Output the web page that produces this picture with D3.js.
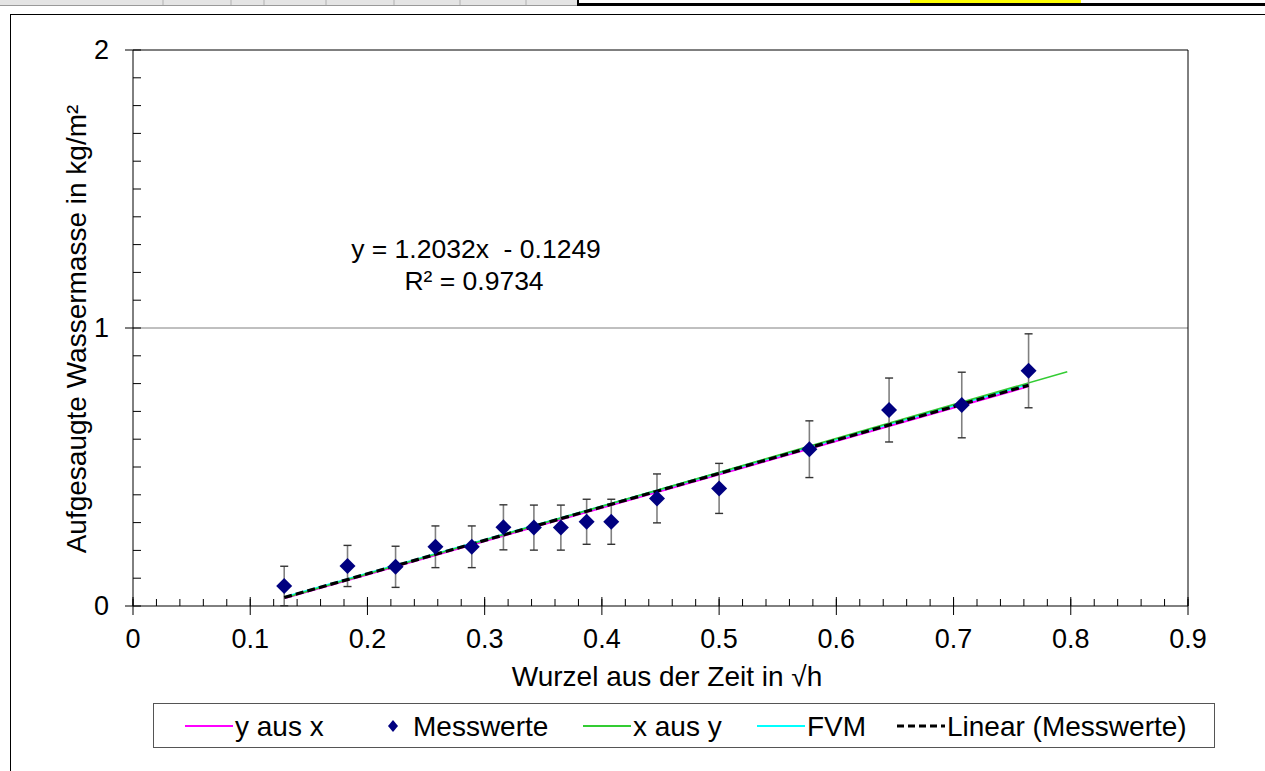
<!DOCTYPE html>
<html lang="de">
<head>
<meta charset="utf-8">
<title>Wasseraufnahme</title>
<script src="https://d3js.org/d3.v7.min.js"></script>
<style>
  body { margin: 0; background: #fff; }
  svg text { font-family: "Liberation Sans", Arial, sans-serif; fill: #000; }
</style>
</head>
<body>
<div id="chart"></div>
<script>

// Messwerte: Wurzel der Zeit (sqrt h) und aufgesaugte Wassermasse (kg/m²)
var sqrtT = [0.129, 0.183, 0.224, 0.258, 0.289, 0.316, 0.342, 0.365,
             0.387, 0.408, 0.447, 0.500, 0.577, 0.645, 0.707, 0.764];
var masse = [0.072, 0.144, 0.141, 0.213, 0.213, 0.283, 0.282, 0.282,
             0.303, 0.303, 0.387, 0.423, 0.564, 0.705, 0.723, 0.846];
var fehler = [0.071, 0.074, 0.074, 0.075, 0.075, 0.081, 0.081, 0.081,
              0.081, 0.081, 0.088, 0.090, 0.102, 0.115, 0.118, 0.133];

// Regressionslinien (Endpunkte)
var yAusX = [[0.129, 0.028], [0.764, 0.790]];
var xAusY = [[0.135, 0.036], [0.797, 0.843]];
var fvm   = [[0.129, 0.032], [0.764, 0.798]];
var trendSteigung = 1.2032, trendAchse = -0.1249;

var xTicks = [0, 0.1, 0.2, 0.3, 0.4, 0.5, 0.6, 0.7, 0.8, 0.9];
var yTicks = [0, 1, 2];

var width = 1265, height = 771;
var svg = d3.select("#chart").append("svg")
  .attr("width", width)
  .attr("height", height);

// spreadsheet leftovers at the top
svg.append("rect").attr("x", 0).attr("y", 0).attr("width", 578).attr("height", 5).attr("fill", "#e4e4e4");
[163, 231, 264, 326, 394, 460, 526].forEach(function(px) {
  svg.append("line").attr("x1", px).attr("x2", px).attr("y1", 0).attr("y2", 5).attr("stroke", "#b0b0b0");
});
svg.append("line").attr("x1", 0).attr("x2", 578).attr("y1", 5.5).attr("y2", 5.5).attr("stroke", "#999");
svg.append("rect").attr("x", 910).attr("y", 0).attr("width", 171).attr("height", 3).attr("fill", "#ffff00");
svg.append("rect").attr("x", 578).attr("y", 3).attr("width", 687).attr("height", 3).attr("fill", "#000");
svg.append("rect").attr("x", 577).attr("y", 0).attr("width", 2).attr("height", 6).attr("fill", "#000");

// chart area border
svg.append("line").attr("x1", 10).attr("x2", width).attr("y1", 14.5).attr("y2", 14.5).attr("stroke", "#000");
svg.append("line").attr("x1", 10.5).attr("x2", 10.5).attr("y1", 14).attr("y2", height).attr("stroke", "#000");

var x = d3.scaleLinear().domain([0, 0.9]).range([133, 1188]);
var y = d3.scaleLinear().domain([0, 2]).range([606, 50]);

// gridline and plot border
svg.append("line")
  .attr("x1", x(0)).attr("x2", x(0.9))
  .attr("y1", y(1)).attr("y2", y(1))
  .attr("stroke", "#808080");
svg.append("path")
  .attr("d", "M" + x(0) + "," + y(2) + "H" + x(0.9) + "V" + y(0))
  .attr("fill", "none").attr("stroke", "#000");

// x axis: major ticks cross, minor ticks inside
var xAxis = svg.append("g").attr("transform", "translate(0," + y(0) + ")");
xAxis.append("line").attr("x1", x(0)).attr("x2", x(0.9)).attr("stroke", "#000");
xAxis.selectAll(".minor").data(d3.range(0, 0.9001, 0.02)).enter().append("line")
  .attr("x1", function(d) { return x(d); }).attr("x2", function(d) { return x(d); })
  .attr("y1", -7).attr("y2", 0).attr("stroke", "#000");
xAxis.selectAll(".major").data(xTicks).enter().append("line")
  .attr("x1", function(d) { return x(d); }).attr("x2", function(d) { return x(d); })
  .attr("y1", -9).attr("y2", 9).attr("stroke", "#000");
xAxis.selectAll("text").data(xTicks).enter().append("text")
  .attr("x", function(d) { return x(d); })
  .attr("y", 42)
  .attr("text-anchor", "middle")
  .style("font-size", "27px")
  .text(function(d) { return d === 0 ? "0" : d3.format(".1f")(d); });

// y axis
var yAxis = svg.append("g").attr("transform", "translate(" + x(0) + ",0)");
yAxis.append("line").attr("y1", y(0)).attr("y2", y(2)).attr("stroke", "#000");
yAxis.selectAll(".minor").data(d3.range(0, 2.001, 0.1)).enter().append("line")
  .attr("y1", function(d) { return y(d); }).attr("y2", function(d) { return y(d); })
  .attr("x1", 0).attr("x2", 8).attr("stroke", "#000");
yAxis.selectAll(".major").data(yTicks).enter().append("line")
  .attr("y1", function(d) { return y(d); }).attr("y2", function(d) { return y(d); })
  .attr("x1", -8).attr("x2", 0).attr("stroke", "#000");
yAxis.selectAll("text").data(yTicks).enter().append("text")
  .attr("x", -24)
  .attr("y", function(d) { return y(d) + 9; })
  .attr("text-anchor", "end")
  .style("font-size", "27px")
  .text(function(d) { return d; });

// axis titles
svg.append("text")
  .attr("x", 667).attr("y", 686)
  .attr("text-anchor", "middle")
  .style("font-size", "28px")
  .text("Wurzel aus der Zeit in \u221Ah");
svg.append("text")
  .attr("transform", "translate(86,329) rotate(-90)")
  .attr("text-anchor", "middle")
  .style("font-size", "28px")
  .text("Aufgesaugte Wassermasse in kg/m\u00B2");

var line = d3.line().x(function(d) { return x(d[0]); }).y(function(d) { return y(d[1]); });

// model lines
svg.append("path").datum(yAusX).attr("d", line).attr("fill", "none")
  .attr("stroke", "#ff00ff").attr("stroke-width", 2);
svg.append("path").datum(fvm).attr("d", line).attr("fill", "none")
  .attr("stroke", "#00ffff").attr("stroke-width", 2);
svg.append("path").datum(xAusY).attr("d", line).attr("fill", "none")
  .attr("stroke", "#33cc33").attr("stroke-width", 1.6);

// error bars
var punkte = sqrtT.map(function(t, i) { return { x: t, y: masse[i], e: fehler[i] }; });
var bars = svg.append("g").selectAll("g").data(punkte).enter().append("g");
bars.append("line")
  .attr("x1", function(d) { return x(d.x); }).attr("x2", function(d) { return x(d.x); })
  .attr("y1", function(d) { return y(d.y + d.e); }).attr("y2", function(d) { return y(d.y - d.e); })
  .attr("stroke", "#808080").attr("stroke-width", 1.6);
bars.append("line")
  .attr("x1", function(d) { return x(d.x) - 4; }).attr("x2", function(d) { return x(d.x) + 4; })
  .attr("y1", function(d) { return y(d.y + d.e); }).attr("y2", function(d) { return y(d.y + d.e); })
  .attr("stroke", "#333").attr("stroke-width", 1.4);
bars.append("line")
  .attr("x1", function(d) { return x(d.x) - 4; }).attr("x2", function(d) { return x(d.x) + 4; })
  .attr("y1", function(d) { return y(d.y - d.e); }).attr("y2", function(d) { return y(d.y - d.e); })
  .attr("stroke", "#333").attr("stroke-width", 1.4);

// linear trendline
var tr = [sqrtT[0], sqrtT[sqrtT.length - 1]].map(function(t) { return [t, trendSteigung * t + trendAchse]; });
svg.append("path").datum(tr).attr("d", line).attr("fill", "none")
  .attr("stroke", "#000").attr("stroke-width", 3.2).attr("stroke-dasharray", "8,4");

// markers
var diamond = "M0,-8L8,0L0,8L-8,0Z";
svg.append("g").selectAll("path").data(punkte).enter().append("path")
  .attr("d", diamond)
  .attr("transform", function(d) { return "translate(" + x(d.x) + "," + y(d.y) + ")"; })
  .attr("fill", "#000080");

// equation
svg.append("text").attr("x", 476).attr("y", 258).attr("text-anchor", "middle")
  .style("font-size", "26.5px").style("white-space", "pre")
  .text("y = 1.2032x  - 0.1249");
svg.append("text").attr("x", 474).attr("y", 290).attr("text-anchor", "middle")
  .style("font-size", "26.5px")
  .text("R\u00B2 = 0.9734");

// legend
var leg = svg.append("g");
leg.append("rect").attr("x", 153.5).attr("y", 703.5).attr("width", 1061).attr("height", 44)
  .attr("fill", "#fff").attr("stroke", "#555");
var legItems = [
  { name: "y aus x", type: "line", color: "#ff00ff", x: 185 },
  { name: "Messwerte", type: "marker", color: "#000080", x: 385 },
  { name: "x aus y", type: "line", color: "#33cc33", x: 583 },
  { name: "FVM", type: "line", color: "#00ffff", x: 757 },
  { name: "Linear (Messwerte)", type: "dash", color: "#000", x: 897 }
];
legItems.forEach(function(it) {
  var cy = 726;
  if (it.type === "marker") {
    leg.append("path").attr("d", "M0,-6L5,0L0,6L-5,0Z")
      .attr("transform", "translate(" + (it.x + 8) + "," + cy + ")").attr("fill", it.color);
    leg.append("text").attr("x", it.x + 28).attr("y", cy + 10).style("font-size", "28px").text(it.name);
  } else {
    leg.append("line").attr("x1", it.x).attr("x2", it.x + 48).attr("y1", cy).attr("y2", cy)
      .attr("stroke", it.color).attr("stroke-width", it.type === "dash" ? 3 : 2)
      .attr("stroke-dasharray", it.type === "dash" ? "7,4" : null);
    leg.append("text").attr("x", it.x + 50).attr("y", cy + 10).style("font-size", "28px").text(it.name);
  }
});

</script>
</body>
</html>
